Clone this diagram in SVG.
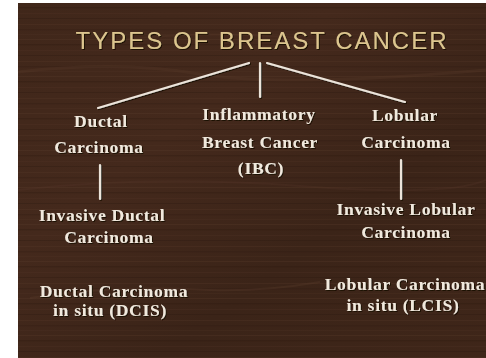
<svg xmlns="http://www.w3.org/2000/svg" width="486" height="358" viewBox="0 0 486 358">
  <defs>
    <linearGradient id="wood" x1="0" y1="0" x2="1" y2="1">
      <stop offset="0" stop-color="#40271a"/>
      <stop offset="0.35" stop-color="#44291c"/>
      <stop offset="0.65" stop-color="#3b2418"/>
      <stop offset="1" stop-color="#3f2619"/>
    </linearGradient>
    <pattern id="grain" x="0" y="0" width="486" height="37" patternUnits="userSpaceOnUse">
      <rect x="0" y="2" width="486" height="1" fill="#5a3c2a" opacity="0.3"/>
      <rect x="0" y="7" width="486" height="1.5" fill="#2a160e" opacity="0.3"/>
      <rect x="0" y="13" width="486" height="1" fill="#563827" opacity="0.22"/>
      <rect x="0" y="18" width="486" height="1" fill="#28150d" opacity="0.28"/>
      <rect x="0" y="24" width="486" height="1" fill="#5b3d2b" opacity="0.25"/>
      <rect x="0" y="29" width="486" height="1.5" fill="#2a160e" opacity="0.25"/>
      <rect x="0" y="34" width="486" height="1" fill="#55382a" opacity="0.2"/>
    </pattern>
    <filter id="shadow" x="-5%" y="-20%" width="110%" height="140%">
      <feDropShadow dx="1" dy="1" stdDeviation="0.6" flood-color="#120804" flood-opacity="0.9"/>
    </filter>
  </defs>
  <style>
    .lbl { font-family: "Liberation Serif", "Times New Roman", serif; font-weight: bold; font-size: 17.5px; letter-spacing: 0.7px; fill: #f1e9dd; text-anchor: middle; }
    .title { font-family: "Liberation Sans", Arial, sans-serif; font-size: 24px; letter-spacing: 2px; fill: #dcc58e; text-anchor: middle; }
    .conn { stroke: #ece4da; stroke-width: 2.2; stroke-linecap: round; fill: none; }
  </style>
  <rect x="0" y="0" width="486" height="358" fill="#ffffff"/>
  <g id="background">
    <rect x="18" y="3" width="468" height="355" fill="url(#wood)"/>
    <rect x="18" y="3" width="468" height="355" fill="url(#grain)"/>
    <path d="M18 72 Q120 60 200 74 T486 70" stroke="#5b3d2b" stroke-width="3" fill="none" opacity="0.3"/>
    <path d="M30 298 Q110 285 210 290 Q260 292 320 282" stroke="#5e4030" stroke-width="2" fill="none" opacity="0.3"/>
    <path d="M18 190 Q150 175 300 186 T486 180" stroke="#56392a" stroke-width="2" fill="none" opacity="0.25"/>
    <path d="M120 40 Q200 30 300 38" stroke="#5a3c2b" stroke-width="2" fill="none" opacity="0.25"/>
  </g>
  <g id="title" filter="url(#shadow)">
    <text class="title" x="262" y="49">TYPES OF BREAST CANCER</text>
  </g>
  <g id="connectors" filter="url(#shadow)">
    <line class="conn" x1="249" y1="63" x2="98" y2="108"/>
    <line class="conn" x1="260" y1="63" x2="260" y2="97"/>
    <line class="conn" x1="267" y1="63" x2="405" y2="102"/>
    <line class="conn" x1="100" y1="165" x2="100" y2="199"/>
    <line class="conn" x1="401" y1="160" x2="401" y2="199"/>
  </g>
  <g id="ductal" filter="url(#shadow)">
    <text class="lbl" x="101" y="127">Ductal</text>
    <text class="lbl" x="99" y="153">Carcinoma</text>
  </g>
  <g id="ibc" filter="url(#shadow)">
    <text class="lbl" x="259" y="120">Inflammatory</text>
    <text class="lbl" x="260" y="148">Breast Cancer</text>
    <text class="lbl" x="261" y="174">(IBC)</text>
  </g>
  <g id="lobular" filter="url(#shadow)">
    <text class="lbl" x="405" y="121">Lobular</text>
    <text class="lbl" x="406" y="148">Carcinoma</text>
  </g>
  <g id="idc" filter="url(#shadow)">
    <text class="lbl" x="102" y="221">Invasive Ductal</text>
    <text class="lbl" x="109" y="243">Carcinoma</text>
  </g>
  <g id="ilc" filter="url(#shadow)">
    <text class="lbl" x="406" y="215">Invasive Lobular</text>
    <text class="lbl" x="406" y="238">Carcinoma</text>
  </g>
  <g id="dcis" filter="url(#shadow)">
    <text class="lbl" x="114" y="297">Ductal Carcinoma</text>
    <text class="lbl" x="110" y="316">in situ (DCIS)</text>
  </g>
  <g id="lcis" filter="url(#shadow)">
    <text class="lbl" x="405" y="290">Lobular Carcinoma</text>
    <text class="lbl" x="403" y="311">in situ (LCIS)</text>
  </g>
</svg>
